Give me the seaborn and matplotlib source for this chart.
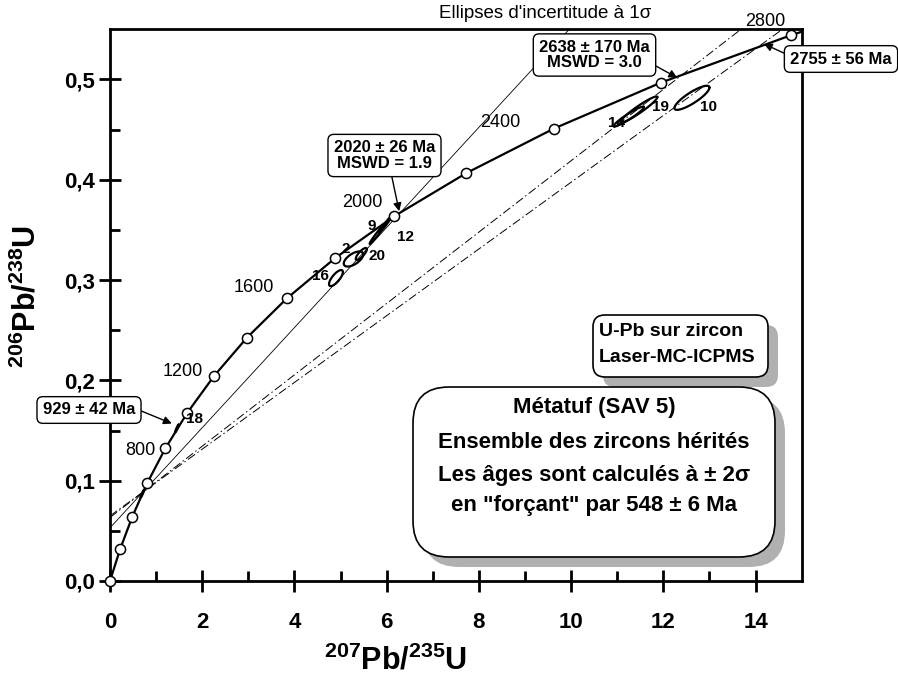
import numpy as np
import matplotlib
matplotlib.use("Agg")
import matplotlib.pyplot as plt
import seaborn as sns
import pandas as pd
from matplotlib.patches import FancyBboxPatch

# ---------------- data ----------------
conc_age = [0, 200, 400, 600, 800, 1000, 1200, 1400, 1600, 1800, 2000, 2200, 2400, 2600, 2800]
conc_x = [0.0, 0.2177, 0.4828, 0.8057, 1.1987, 1.6774, 2.2603, 2.9701, 3.8344, 4.8869,
          6.1685, 7.7292, 9.6297, 11.9445, 14.7617]
conc_y = [0.0, 0.0315, 0.0640, 0.0975, 0.1321, 0.1678, 0.2046, 0.2426, 0.2817, 0.3221,
          0.3638, 0.4067, 0.4511, 0.4968, 0.5440]
conc_tail = (15.0, 0.5476)

label_ages = ["800", "1200", "1600", "2000", "2400", "2800"]
label_x = [0.98, 2.02, 3.56, 5.90, 8.90, 14.65]
label_y = [0.1302, 0.2086, 0.2924, 0.3778, 0.4566, 0.558]

lower_int = (0.7155, 0.0887)
upper_x = [6.3115, 12.438, 14.0775]
upper_y = [0.3680, 0.5057, 0.5332]
upper_style = ["solid", "dashdot", "dashdot"]

ell_name = ["", "18", "16", "20", "2", "12", "9", "14", "19", "10"]
ell_x = [0.70, 1.45, 4.90, 5.28, 5.45, 5.80, 5.98, 11.25, 11.47, 12.62]
ell_y = [0.087, 0.152, 0.302, 0.321, 0.326, 0.346, 0.356, 0.463, 0.470, 0.4817]
ell_sx = [0.04, 0.04, 0.15, 0.21, 0.12, 0.17, 0.14, 0.33, 0.40, 0.38]
ell_sy = [0.004, 0.004, 0.008, 0.0075, 0.006, 0.0100, 0.0085, 0.010, 0.013, 0.012]
ell_rho = [0.95, 0.95, 0.75, 0.6, 0.8, 0.98, 0.98, 0.95, 0.95, 0.85]

ell_lab = ["18", "16", "2", "20", "9", "12", "14", "19", "10"]
ell_lab_x = [1.83, 4.56, 5.12, 5.79, 5.68, 6.40, 10.98, 11.94, 12.98]
ell_lab_y = [0.1617, 0.3044, 0.331, 0.3237, 0.3536, 0.3433, 0.457, 0.473, 0.473]

xticks = [0, 2, 4, 6, 8, 10, 12, 14]
yticks = [0.0, 0.1, 0.2, 0.3, 0.4, 0.5]
ytick_labels = ["0,0", "0,1", "0,2", "0,3", "0,4", "0,5"]

# ---------------- style ----------------
sns.set_theme(style="white")
plt.rcParams["font.family"] = ["Liberation Sans", "DejaVu Sans"]
plt.rcParams["mathtext.fontset"] = "custom"
plt.rcParams["mathtext.rm"] = "Liberation Sans"
plt.rcParams["mathtext.bf"] = "Liberation Sans:bold"
plt.rcParams["mathtext.it"] = "Liberation Sans:italic"
for k in ["text.color", "axes.labelcolor", "xtick.color", "ytick.color", "axes.edgecolor"]:
    plt.rcParams[k] = "black"

W, H = 898, 682
fig = plt.figure(figsize=(W / 100, H / 100), dpi=100)
ax = fig.add_axes([110 / W, 101 / H, 691.7 / W, 551.7 / H])

# concordia
df = pd.DataFrame({"x": conc_x + [conc_tail[0]], "y": conc_y + [conc_tail[1]]})
sns.lineplot(data=df, x="x", y="y", sort=False, color="black", lw=1.6, ax=ax, clip_on=False, zorder=5)
ax.plot(conc_x, conc_y, ls="none", marker="o", ms=7.3, mfc="white", mec="black", mew=1.1,
        clip_on=False, zorder=6)

# discordia lines
for ux, uy, st in zip(upper_x, upper_y, upper_style):
    if st == "solid":
        ax.axline(lower_int, (ux, uy), color="black", lw=0.6, zorder=2)
    else:
        ax.axline(lower_int, (ux, uy), color="black", lw=0.7, dashes=(9, 3, 1.5, 3), zorder=2)

# ellipses
tt = np.linspace(0, 2 * np.pi, 120)
for cx, cy, sx, sy, r in zip(ell_x, ell_y, ell_sx, ell_sy, ell_rho):
    ex = cx + sx * np.cos(tt)
    ey = cy + sy * (r * np.cos(tt) + np.sqrt(1 - r * r) * np.sin(tt))
    ax.plot(ex, ey, color="black", lw=1.6, zorder=4)

for s, x, y in zip(ell_lab, ell_lab_x, ell_lab_y):
    ax.text(x, y, s, fontsize=11, fontweight="bold", ha="center", va="center", zorder=7)

for s, x, y in zip(label_ages, label_x, label_y):
    ax.text(x, y, s, fontsize=13, ha="right", va="center", clip_on=False, zorder=7)

# axes
ax.set_xlim(0, 15)
ax.set_ylim(0, 0.55)
ax.set_xticks(xticks)
ax.set_xticklabels([str(v) for v in xticks])
ax.set_xticks([1, 3, 5, 7, 9, 11, 13], minor=True)
ax.set_yticks(yticks)
ax.set_yticklabels(ytick_labels)
ax.set_yticks([0.05, 0.15, 0.25, 0.35, 0.45], minor=True)
for sp in ax.spines.values():
    sp.set_linewidth(2)
    sp.set_color("black")
ax.tick_params(which="major", direction="inout", length=16, width=2, color="black",
               labelcolor="black", labelsize=16, bottom=True, left=True)
ax.tick_params(axis="x", which="major", pad=14)
ax.tick_params(axis="y", which="major", pad=3)
ax.tick_params(which="minor", direction="in", length=7, width=2, color="black", bottom=True, left=True)
for lab in ax.get_xticklabels() + ax.get_yticklabels():
    lab.set_fontweight("bold")
ax.grid(False)

ax.set_xlabel(r"$\mathbf{^{207}Pb/^{235}U}$", fontsize=22, color="black")
ax.set_ylabel(r"$\mathbf{^{206}Pb/^{238}U}$", fontsize=22, color="black")
ax.xaxis.set_label_coords(0.413, -0.117)
ax.yaxis.set_label_coords(-0.097, 0.515)

# title
fig.text(545 / W, 1 - 13 / H, "Ellipses d'incertitude à 1σ", fontsize=13.5, ha="center", va="center",
         color="black")

# annotation boxes with arrows
def fp(px, py):
    return (px, H - py)

box = dict(boxstyle="round,pad=0.35,rounding_size=0.35", fc="white", ec="black", lw=1)
arr = dict(arrowstyle="-|>", color="black", lw=1, mutation_scale=12, shrinkA=0, shrinkB=0)

ax.annotate("929 ± 42 Ma", xy=(1.34, 0.157), xycoords="data", xytext=fp(89, 410),
            textcoords="figure pixels", ha="center", va="center", fontsize=12,
            fontweight="bold", bbox=box, arrowprops=dict(arr, relpos=(1.0, 0.6)),
            annotation_clip=False, zorder=8)
ax.annotate("2020 ± 26 Ma\nMSWD = 1.9", xy=(6.27, 0.3686), xycoords="data", xytext=fp(384.5, 155.5),
            textcoords="figure pixels", ha="center", va="center", fontsize=12,
            fontweight="bold", bbox=box, linespacing=1.05, arrowprops=dict(arr, relpos=(0.56, 0.0)),
            annotation_clip=False, zorder=8)
ax.annotate("2638 ± 170 Ma\nMSWD = 3.0", xy=(12.3, 0.5017), xycoords="data", xytext=fp(594.5, 55),
            textcoords="figure pixels", ha="center", va="center", fontsize=12,
            fontweight="bold", bbox=box, linespacing=1.05, arrowprops=dict(arr, relpos=(1.0, 0.25)),
            annotation_clip=False, zorder=8)
ax.annotate("2755 ± 56 Ma", xy=(14.18, 0.5355), xycoords="data", xytext=fp(841, 59),
            textcoords="figure pixels", ha="center", va="center", fontsize=12,
            fontweight="bold", bbox=box, arrowprops=dict(arr, relpos=(0.0, 0.7)),
            annotation_clip=False, zorder=8)

# shadowed boxes (in inches via dpi_scale_trans)
def shadow_box(l, t, r, b, rad):
    for dx, dy, fc, ec, z in [(10, 10, "#b0b0b0", "none", 9), (0, 0, "white", "black", 10)]:
        p = FancyBboxPatch(((l + dx) / 100, (H - b - dy) / 100), (r - l) / 100, (b - t) / 100,
                           boxstyle="round,pad=0,rounding_size=%f" % (rad / 100),
                           fc=fc, ec=ec, lw=1.2, transform=fig.dpi_scale_trans, zorder=z)
        fig.add_artist(p)

shadow_box(593, 315, 768, 377, 12)
fig.text(599 / W, 1 - 332 / H, "U-Pb sur zircon", fontsize=14, fontweight="bold", ha="left", va="center",
         zorder=11, color="black")
fig.text(599 / W, 1 - 358 / H, "Laser-MC-ICPMS", fontsize=14, fontweight="bold", ha="left", va="center",
         zorder=11, color="black")

shadow_box(413, 387, 775, 557, 36)
lines = ["Métatuf (SAV 5)", "Ensemble des zircons hérités", "Les âges sont calculés à ± 2σ",
         "en \"forçant\" par 548 ± 6 Ma"]
for s, py in zip(lines, [408, 443, 476, 506]):
    fig.text(594 / W, 1 - py / H, s, fontsize=16, fontweight="bold", ha="center", va="center",
             zorder=11, color="black")

fig.savefig("out.png", dpi=100)
